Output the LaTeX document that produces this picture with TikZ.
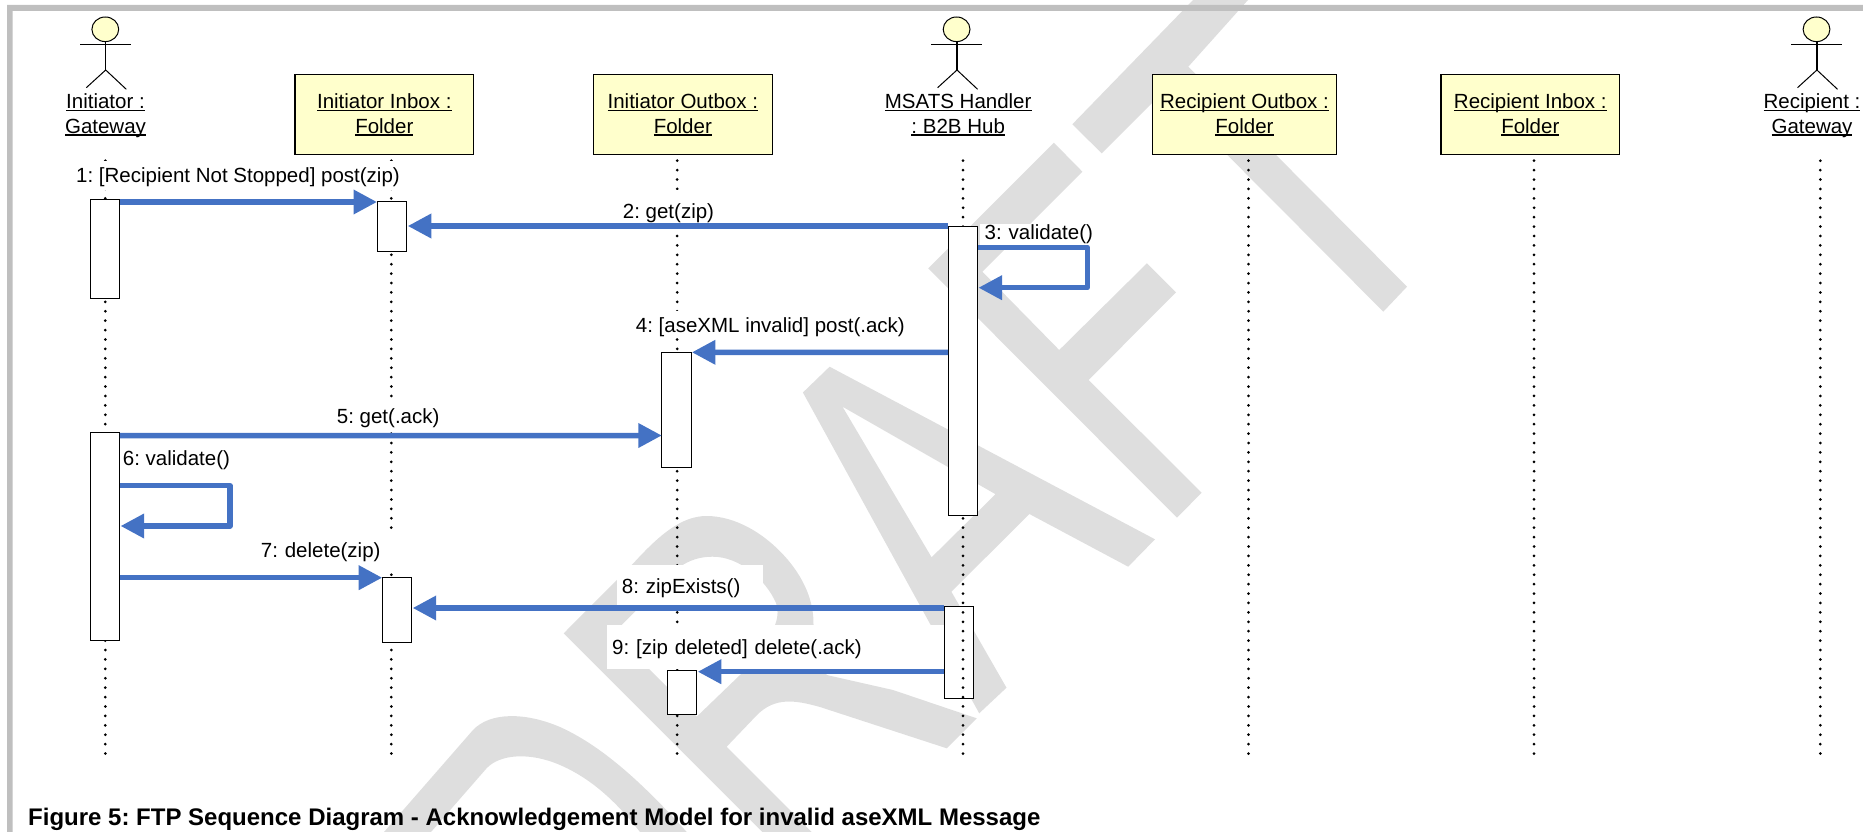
\documentclass[tikz,border=0pt]{standalone}
\usepackage{fontspec}
\setmainfont{Liberation Sans}
\usepackage{tikz}
\usetikzlibrary{arrows.meta}

\definecolor{framegrey}{HTML}{BFBFBF}
\definecolor{wmgrey}{HTML}{DEDEDE}
\definecolor{folderyellow}{HTML}{FFFFCC}
\definecolor{msgblue}{HTML}{4472C4}

\frenchspacing

\newcommand{\ulab}[1]{\setbox0=\hbox{#1}\rule[-6pt]{0pt}{25pt}\rlap{\rule[-2.4pt]{\wd0}{1.2pt}}\box0}

\tikzset{
    wmark/.style={fill=wmgrey,even odd rule},
    folder/.style={draw,line width=1.2pt,fill=folderyellow,inner sep=0pt,outer sep=0pt,minimum height=80pt,align=center,font=\fontsize{20.5}{25}\selectfont},
    actorname/.style={inner sep=0pt,align=center,font=\fontsize{20.5}{25}\selectfont},
    lifeline/.style={line width=3pt,line cap=round,dash pattern=on 0pt off 9.41pt},
    bar/.style={draw,line width=1pt,fill=white,inner sep=0pt,outer sep=0pt,anchor=north west,minimum width=29.5pt},
    msgline/.style={draw=msgblue,line width=5.5pt,line join=round,-{Triangle[length=23.5pt,width=23.5pt,color=msgblue]}},
    msglabel/.style={fill=white,inner xsep=5pt,inner ysep=0pt,anchor=base west,align=left,font=\fontsize{20.5}{25}\selectfont},
    actor/.pic={
        \draw[line width=1pt,fill=folderyellow] (0,-15.7) ellipse (13.4 and 12.3);
        \draw[line width=1pt] (-25.2,0)--(25.2,0);
        \draw[line width=1.2pt] (0.4,-3.5)--(0.4,25);
        \draw[line width=1pt] (-19,42.7)--(0.4,25)--(21,44.3);
    }
}

\begin{document}
\begin{tikzpicture}[x=1pt,y=-1pt]
    \useasboundingbox (0,0) rectangle (1863,832);

    \fill[wmark] (384,832)--(473,730) .. controls (490,712) and (525,712) .. (560,727) .. controls (600,745) and (640,780) .. (686.7,832)--(640,832) .. controls (615,800) and (590,778) .. (560,765) .. controls (530,752) and (500,754) .. (486.6,768.3)--(431,832)--cycle;
    \fill[wmark] (563.7,633.3)--(633,563.7) .. controls (660,534) and (682,516) .. (706.5,516) .. controls (735,516) and (765,533) .. (788,560) .. controls (803,578) and (814,600) .. (813.5,625)--(826.7,675)--(893,690)--(976.7,718.3)--(946.7,748.3)--(820,707) .. controls (795,700) and (775,697) .. (757,715)--(726.7,746.7)--(811.7,832)--(762.4,832)--cycle
        (613.3,633.3)--(680,566.7) .. controls (690,560) and (700,556.7) .. (712.6,556.7) .. controls (740,556.7) and (766,580) .. (776,603) .. controls (779,612) and (777,620) .. (775,625)--(771,650)--(740,675)--(696.7,716.7)--cycle;
    \fill[wmark] (829.6,366.7)--(1155,539.3)--(1128.2,566.7)--(1029.4,514)--(951.4,591.7)--(1006.5,687.7)--(979.2,713.3)--(802.9,392.5)--cycle
        (842.5,406.7)--(995.5,494.2)--(931.6,557.3)--cycle;
    \fill[wmark] (1053.9,142.7)--(1082.4,171.7)--(982.4,271.7)--(1059.2,350)--(1146.9,263.3)--(1176,292.3)--(1088.6,380)--(1201.6,492.7)--(1177,517.7)--(928.2,268.3)--cycle;
    \fill[wmark] (1072.3,124.3)--(1193,0)--(1248,0)--(1188.3,66.7)--(1407,286.7)--(1383.3,311.7)--(1163.8,91.2)--(1101.7,153.3)--cycle;

    \fill[framegrey] (7,832)--(7,5)--(1863,5)--(1863,11)--(12.7,11)--(12.7,832)--cycle;

    \node[bar,minimum height=92pt] (mshB) at (944.3,606.5) {};

    \coordinate (gwTop) at (105.3,160.7);
    \coordinate (gwEnd) at (105.3,754);
    \coordinate (inTop) at (391.3,160.7);
    \coordinate (inEnd) at (391.3,754);
    \coordinate (outTop) at (677.2,160.7);
    \coordinate (outEnd) at (677.2,754);
    \coordinate (mshTop) at (963,160.7);
    \coordinate (mshEnd) at (963,754);
    \coordinate (routTop) at (1248.5,160.7);
    \coordinate (routEnd) at (1248.5,754);
    \coordinate (rinTop) at (1534,160.7);
    \coordinate (rinEnd) at (1534,754);
    \coordinate (rgwTop) at (1820.3,160.7);
    \coordinate (rgwEnd) at (1820.3,754);
    \draw[lifeline] (gwTop)--(gwEnd);
    \draw[lifeline] (inTop)--(inEnd);
    \draw[lifeline] (outTop)--(outEnd);
    \draw[lifeline] (mshTop)--(mshEnd);
    \draw[lifeline] (routTop)--(routEnd);
    \draw[lifeline] (rinTop)--(rinEnd);
    \draw[lifeline] (rgwTop)--(rgwEnd);

    \pic at (105.3,45) {actor};
    \pic at (956.6,45) {actor};
    \pic at (1816.5,45) {actor};
    \node[actorname] (gw) at (105.5,114.3) {\ulab{Initiator :}\\\ulab{Gateway}};
    \node[actorname] (msh) at (958.2,114.3) {\ulab{MSATS Handler}\\\ulab{: B2B Hub}};
    \node[actorname] (rgw) at (1812,114.3) {\ulab{Recipient :}\\\ulab{Gateway}};
    \node[folder,minimum width=178.7pt] (inbox) at (384.3,114.3) {\ulab{Initiator Inbox :}\\\ulab{Folder}};
    \node[folder,minimum width=179pt] (outbox) at (682.8,114.3) {\ulab{Initiator Outbox :}\\\ulab{Folder}};
    \node[folder,minimum width=184.4pt] (rout) at (1244.5,114.3) {\ulab{Recipient Outbox :}\\\ulab{Folder}};
    \node[folder,minimum width=178.7pt] (rin) at (1530.3,114.3) {\ulab{Recipient Inbox :}\\\ulab{Folder}};

    \node[msglabel,text height=21.6pt,text depth=7.7pt] (m1) at (71,182.3) {1: [Recipient Not Stopped] post(zip)};
    \node[msglabel,text height=28.8pt,text depth=7.7pt] (m2) at (617.7,218.3) {2: get(zip)};
    \node[msglabel,text width=120pt,text height=15pt,text depth=8pt] (m3) at (979.5,239) {3: validate()};
    \node[msglabel,text height=21.5pt,text depth=5.5pt] (m4) at (630.7,332.3) {4: [aseXML invalid] post(.ack)};
    \node[msglabel,text height=24pt,text depth=8pt] (m5) at (331.7,423.3) {5: get(.ack)};
    \node[msglabel,text height=17pt,text depth=6pt] (m6) at (117.7,465.7) {6: validate()};
    \node[msglabel,text width=135pt,text height=27pt,text depth=14pt] (m7) at (255.7,557.3) {7: delete(zip)};
    \node[msglabel,text width=136pt,text height=28.3pt,text depth=13pt] (m8) at (616.7,593.3) {8: zipExists()};
    \node[msglabel,text width=327pt,text height=29pt,text depth=15pt] (m9) at (607,654) {9: [zip deleted] delete(.ack)};

    \node[bar,minimum height=98.7pt] (gwA) at (90.4,199.3) {};
    \node[bar,minimum height=49.3pt] (inA) at (377,201.7) {};
    \node[bar,minimum height=289.7pt] (mshA) at (948,226) {};
    \node[bar,minimum height=115.4pt] (outA) at (661.8,352.3) {};
    \node[bar,minimum height=207.6pt] (gwB) at (90.4,432.7) {};
    \node[bar,minimum height=65.4pt] (inB) at (382.2,577.3) {};
    \node[bar,minimum height=43.3pt] (outB) at (667.3,670.7) {};

    \draw[msgline] ([yshift=-2.7pt]gwA.north east)--([yshift=-0.3pt]inA.north west);
    \draw[msgline] (mshA.north west)--([xshift=1.3pt,yshift=-24.3pt]inA.north east);
    \draw[msgline] ([yshift=-21.3pt]mshA.north east)--++(109.8,0)|-([xshift=1pt,yshift=-61.7pt]mshA.north east);
    \draw[msgline] ([yshift=-126.4pt]mshA.north west)--([xshift=0.6pt]outA.north east);
    \draw[msgline] ([yshift=-3pt]gwB.north east)--([yshift=-83.2pt]outA.north west);
    \draw[msgline] ([yshift=-53pt]gwB.north east)--++(110,0)|-([xshift=0.7pt,yshift=-93.3pt]gwB.north east);
    \draw[msgline] ([yshift=-145pt]gwB.north east)--([yshift=-0.4pt]inB.north west);
    \draw[msgline] ([yshift=-1.5pt]mshB.north west)--([xshift=1pt,yshift=-30.7pt]inB.north east);
    \draw[msgline] ([yshift=-65.2pt]mshB.north west)--([xshift=1pt,yshift=-1pt]outB.north east);

    \node[inner sep=0pt,anchor=base west,font=\fontsize{24}{28}\selectfont\bfseries] (figcap) at (28,825) {Figure 5: FTP Sequence Diagram - Acknowledgement Model for invalid aseXML Message};
\end{tikzpicture}
\end{document}
